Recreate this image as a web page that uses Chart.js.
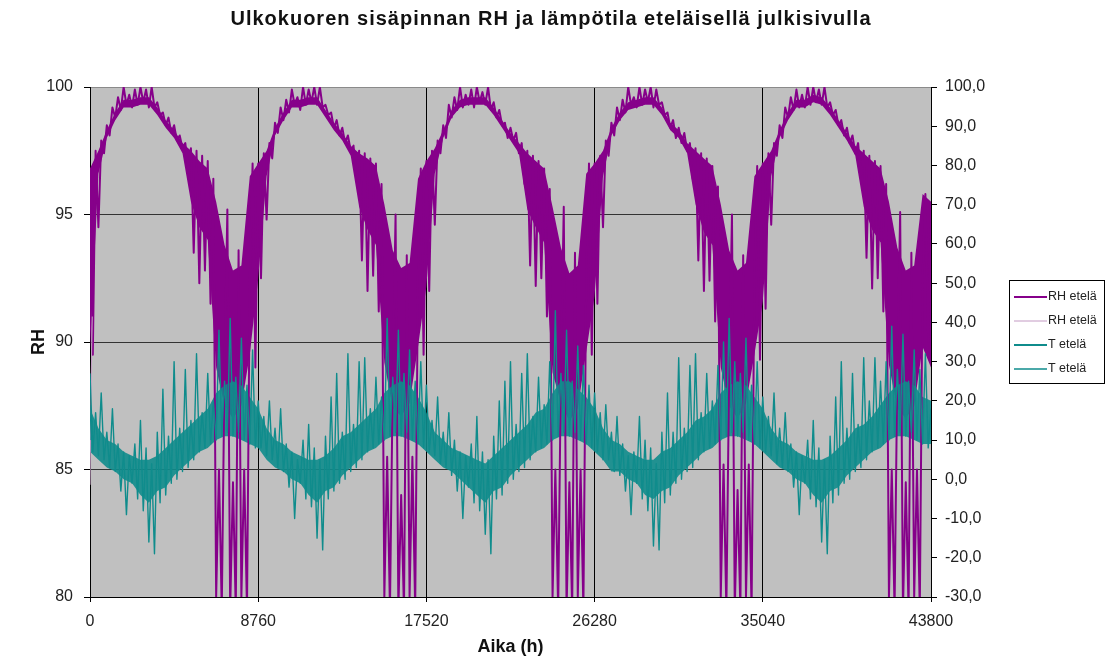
<!DOCTYPE html>
<html lang="fi">
<head>
<meta charset="utf-8">
<title>Ulkokuoren sisäpinnan RH ja lämpötila</title>
<script src="https://cdn.jsdelivr.net/npm/chart.js@4.4.1/dist/chart.umd.min.js"></script>
<style>
  html, body { margin: 0; padding: 0; background: #fff; }
  #wrap { width: 1112px; height: 664px; }
</style>
</head>
<body>
<div id="wrap"><canvas id="chart" width="1112" height="664"></canvas></div>
<script>
const chartTitle = 'Ulkokuoren sisäpinnan RH ja lämpötila eteläisellä julkisivulla';

// axis ticks
const xTicks = [0, 8760, 17520, 26280, 35040, 43800];
const rhTicks = [80, 85, 90, 95, 100];
const tTicks = [-30, -20, -10, 0, 10, 20, 30, 40, 50, 60, 70, 80, 90, 100];

// simulation output, one reading every 146 h (5 years)
const stepHours = 146;
const hours = Array.from({ length: 301 }, (_, i) => i * stepHours);

// RH etelä (%)
const rhEtela = [
  96.8, 89.5, 97.5, 94.5, 97.9, 97.4, 98.5, 98.1, 99.2, 98.8,
  99.6, 99.1, 100, 99.3, 99.7, 99.2, 99.9, 99.3, 100, 99.4,
  99.9, 99.2, 100, 99.2, 99.4, 98.9, 99.0, 98.5, 98.8, 98.2,
  98.5, 97.9, 98.1, 97.6, 97.8, 96.8, 97.6, 93.5, 97.5, 92.3,
  97.3, 92.8, 97.1, 91.5, 96.4, 80.0, 85.0, 79.5, 89.0, 95.2,
  79.5, 84.5, 79.5, 93.6, 80.0, 85.0, 79.5, 92.5, 97.0, 89.0,

  97.0, 92.5, 97.4, 94.8, 97.8, 97.2, 98.6, 98.2, 99.2, 98.7,
  99.5, 99.0, 99.9, 99.3, 99.6, 99.1, 100, 99.3, 99.9, 99.4,
  100, 99.3, 100, 99.2, 99.3, 98.9, 99.0, 98.4, 98.7, 98.1,
  98.4, 97.8, 98.1, 97.5, 97.7, 96.5, 97.5, 93.2, 97.4, 92.0,
  97.2, 92.6, 97.0, 91.2, 96.2, 80.0, 85.5, 79.5, 88.5, 95.0,
  79.5, 84.0, 79.5, 93.4, 80.0, 85.5, 79.5, 92.8, 96.8, 89.5,

  97.1, 92.0, 97.5, 94.6, 97.9, 97.4, 98.5, 98.0, 99.3, 98.8,
  99.6, 99.1, 100, 99.2, 99.7, 99.3, 99.9, 99.2, 100, 99.4,
  99.8, 99.3, 100, 99.1, 99.4, 98.8, 99.1, 98.5, 98.6, 98.0,
  98.4, 97.9, 98.2, 97.4, 97.8, 96.2, 97.5, 93.0, 97.3, 92.2,
  97.1, 92.5, 96.8, 91.0, 96.0, 80.0, 85.0, 79.5, 89.0, 95.3,
  79.5, 84.5, 79.5, 93.5, 80.0, 85.0, 79.5, 92.4, 97.0, 89.5,

  97.0, 91.5, 97.3, 94.5, 97.9, 97.3, 98.6, 98.1, 99.2, 98.7,
  99.5, 99.0, 100, 99.3, 99.6, 99.2, 100, 99.3, 99.9, 99.4,
  100, 99.2, 99.9, 99.3, 99.4, 98.9, 99.0, 98.4, 98.7, 98.0,
  98.4, 97.8, 98.2, 97.5, 97.8, 96.4, 97.6, 93.2, 97.4, 92.0,
  97.2, 92.4, 96.9, 90.8, 96.1, 80.0, 85.2, 79.5, 88.8, 95.0,
  79.5, 84.2, 79.5, 93.4, 80.0, 85.2, 79.5, 92.6, 96.9, 89.3,

  97.0, 91.3, 97.4, 94.6, 97.8, 97.3, 98.5, 98.0, 99.2, 98.8,
  99.6, 99.1, 99.9, 99.2, 99.7, 99.2, 100, 99.3, 100, 99.4,
  99.9, 99.3, 100, 99.2, 99.4, 98.9, 99.1, 98.5, 98.7, 98.1,
  98.4, 97.8, 98.1, 97.4, 97.8, 96.5, 97.5, 93.3, 97.3, 92.1,
  97.1, 92.5, 96.9, 91.2, 96.2, 80.0, 85.0, 79.5, 89.0, 95.1,
  79.5, 84.5, 79.5, 93.5, 80.0, 85.0, 79.5, 92.6, 95.8, 90.0,
  95.5
];

// T etelä (°C)
const tEtela = [
  27, 7, 17, 6, 22, 5, 12, 3, 18, 2,
  9, -3, 7, -9, 6, -1, 9, -5, 15, -8,
  8, -16, 4, -19, 12, -6, 23, -4, 11, -1,
  30, 0, 13, 2, 28, 3, 15, 5, 32, 7,
  17, 8, 27, 9, 20, 10, 38, 11, 25, 12,
  41, 11, 26, 12, 36, 10, 24, 9, 33, 8,

  20, 8, 16, 6, 20, 5, 13, 3, 18, 2,
  9, -2, 7, -10, 5, -1, 10, -5, 14, -7,
  8, -15, 5, -18, 11, -5, 21, -3, 27, -1,
  12, 0, 32, 2, 14, 3, 30, 5, 31, 7,
  18, 8, 26, 9, 21, 10, 41, 11, 26, 12,
  38, 11, 27, 12, 33, 10, 25, 9, 30, 8,

  24, 7, 15, 6, 21, 4, 12, 3, 17, 1,
  10, -3, 7, -10, 6, -2, 9, -6, 16, -8,
  7, -14, 5, -19, 11, -5, 20, -4, 25, -1,
  30, 0, 14, 2, 27, 3, 32, 5, 16, 7,
  26, 8, 19, 9, 30, 10, 43, 11, 27, 12,
  38, 11, 25, 12, 34, 10, 29, 9, 24, 8,

  22, 7, 17, 5, 19, 5, 12, 2, 16, 1,
  9, -3, 6, -9, 7, -1, 16, -5, 10, -8,
  8, -17, 4, -18, 12, -6, 22, -4, 12, -1,
  31, 0, 13, 2, 29, 3, 32, 5, 17, 7,
  27, 8, 20, 9, 29, 10, 35, 11, 41, 12,
  30, 11, 27, 12, 36, 10, 24, 9, 30, 8,

  21, 7, 16, 6, 22, 4, 13, 3, 17, 2,
  9, -2, 7, -9, 6, -1, 10, -5, 15, -7,
  8, -16, 5, -19, 11, -6, 21, -4, 30, -1,
  13, 0, 27, 2, 14, 3, 31, 5, 20, 7,
  31, 8, 25, 9, 30, 10, 39, 11, 28, 12,
  37, 11, 25, 12, 33, 10, 28, 9, 32, 8,
  18
];

// dense part of the hourly scatter: upper and lower edge every 438 h
const coreStep = 438;
const coreHours = Array.from({ length: 101 }, (_, i) => i * coreStep);

const rhCoreHigh = [
  96.8, 97.5, 98.3, 99.0, 99.5, 99.5, 99.6, 99.6, 99.2, 98.7, 98.3, 97.8, 97.5, 97.1, 96.8, 95.5, 93.8, 92.8, 93.0, 96.5,
  97.0, 97.5, 98.4, 99.0, 99.5, 99.5, 99.6, 99.6, 99.1, 98.6, 98.2, 97.7, 97.4, 97.2, 96.9, 95.4, 93.6, 92.9, 93.1, 96.4,
  97.1, 97.6, 98.3, 99.1, 99.5, 99.6, 99.6, 99.6, 99.2, 98.7, 98.2, 97.8, 97.4, 97.1, 96.8, 95.3, 93.7, 92.7, 93.0, 96.6,
  97.0, 97.5, 98.4, 99.0, 99.4, 99.5, 99.6, 99.6, 99.2, 98.6, 98.3, 97.8, 97.5, 97.2, 96.9, 95.4, 93.6, 92.8, 93.1, 96.5,
  97.0, 97.5, 98.3, 99.0, 99.5, 99.5, 99.7, 99.6, 99.2, 98.7, 98.2, 97.7, 97.4, 97.1, 96.8, 95.5, 93.7, 92.8, 93.0, 95.8,
  95.5
];
const rhCoreLow = [
  89.7, 96.6, 98.0, 98.7, 99.2, 99.2, 99.3, 99.3, 98.9, 98.4, 98.0, 97.4, 95.5, 94.5, 94.0, 89.0, 87.5, 87.0, 87.5, 89.5,
  92.5, 96.5, 98.1, 98.7, 99.2, 99.2, 99.3, 99.3, 98.8, 98.3, 97.9, 97.3, 95.3, 94.4, 93.8, 89.2, 87.4, 87.1, 87.6, 89.8,
  92.2, 96.6, 98.0, 98.8, 99.2, 99.3, 99.3, 99.3, 98.9, 98.4, 97.9, 97.4, 95.2, 94.5, 93.9, 88.8, 87.6, 86.9, 87.4, 89.6,
  91.8, 96.5, 98.1, 98.7, 99.1, 99.2, 99.3, 99.3, 98.9, 98.3, 98.0, 97.4, 95.4, 94.3, 93.8, 89.0, 87.5, 87.0, 87.6, 89.5,
  91.6, 96.5, 98.0, 98.7, 99.2, 99.2, 99.4, 99.3, 98.9, 98.4, 97.9, 97.3, 95.3, 94.4, 93.9, 89.1, 87.4, 87.0, 87.5, 89.8,
  89.0
];

const tCoreHigh = [
  18, 13, 10, 9, 7, 6, 5, 5, 6, 8, 10, 12, 14, 16, 18, 22, 24, 25, 24, 21,
  18, 13, 10, 9, 7, 6, 5, 5, 6, 8, 11, 12, 14, 16, 18, 22, 24, 25, 24, 21,
  17, 12, 10, 8, 7, 6, 5, 4, 6, 8, 10, 12, 14, 17, 18, 22, 25, 25, 23, 21,
  18, 13, 10, 9, 7, 6, 5, 5, 7, 8, 10, 12, 15, 16, 18, 22, 24, 25, 24, 21,
  18, 13, 10, 9, 7, 6, 5, 5, 6, 8, 10, 13, 14, 16, 19, 22, 24, 25, 24, 21,
  20
];
const tCoreLow = [
  7, 5, 3, 2, 0, -1, -4, -6, -3, -2, 1, 3, 5, 7, 8, 10, 11, 11, 10, 9,
  8, 5, 3, 2, 0, -1, -4, -6, -3, -2, 1, 3, 5, 7, 8, 10, 11, 11, 10, 9,
  7, 5, 3, 2, 0, -2, -4, -6, -3, -2, 1, 3, 5, 7, 8, 10, 11, 11, 10, 9,
  7, 5, 2, 2, 0, -1, -4, -5, -3, -2, 1, 3, 5, 7, 8, 10, 11, 11, 10, 9,
  7, 5, 3, 2, 0, -1, -4, -6, -3, -2, 1, 3, 5, 7, 8, 10, 11, 11, 10, 9,
  9
];

// second pair of series, only the first hours show from under the first pair
const rhEtela2Hours = [0, 60, 120];
const rhEtela2 = [84.4, 88.5, 91.0];
const tEtela2Hours = [0, 60, 120];
const tEtela2 = [19, 10, 15];

const FONT = '"Liberation Sans", Arial, Helvetica, sans-serif';
const PURPLE = '#86008a';
const MAUVE = '#c39ac3';
const TEAL = '#0f8c8c';
const TEAL_CORE = 'rgba(15, 140, 140, 0.9)';

const toPoints = (xs, ys) => ys.map((y, i) => ({ x: xs[i], y }));

// grey plot area
const plotBackground = {
  id: 'plotBackground',
  beforeDraw(chart) {
    const { ctx, chartArea: a } = chart;
    ctx.save();
    ctx.fillStyle = '#ffffff';
    ctx.fillRect(0, 0, chart.width, chart.height);
    ctx.fillStyle = '#c0c0c0';
    ctx.fillRect(a.left, a.top, a.right - a.left, a.bottom - a.top);
    ctx.restore();
  }
};

// title drawn a little wider-spaced, like the spreadsheet export
const wideTitle = {
  id: 'wideTitle',
  afterDraw(chart) {
    const { ctx } = chart;
    ctx.save();
    ctx.font = 'bold 20px ' + FONT;
    ctx.fillStyle = '#111';
    ctx.textAlign = 'center';
    ctx.textBaseline = 'middle';
    if ('letterSpacing' in ctx) ctx.letterSpacing = '1px';
    ctx.fillText(chartTitle, 551, 19);
    ctx.restore();
  }
};

// boxed legend on the right side, one row per plotted series
const boxLegend = {
  id: 'boxLegend',
  afterDraw(chart) {
    const { ctx } = chart;
    const box = { x: 1009, y: 280, w: 95, h: 103 };
    ctx.save();
    ctx.fillStyle = '#fff';
    ctx.fillRect(box.x, box.y, box.w, box.h);
    ctx.strokeStyle = '#000';
    ctx.lineWidth = 1;
    ctx.strokeRect(box.x + 0.5, box.y + 0.5, box.w, box.h);
    ctx.font = '12.5px ' + FONT;
    ctx.textBaseline = 'middle';
    ctx.textAlign = 'left';
    chart.data.datasets.filter(ds => ds.legendWidth).forEach((ds, i) => {
      const y = 297 + i * 24;
      ctx.strokeStyle = ds.borderColor;
      ctx.lineWidth = ds.legendWidth;
      ctx.beginPath();
      ctx.moveTo(1014, y);
      ctx.lineTo(1047, y);
      ctx.stroke();
      ctx.fillStyle = '#222';
      ctx.fillText(ds.label, 1048, y);
    });
    ctx.restore();
  }
};

const lineDefaults = {
  pointRadius: 0,
  tension: 0,
  fill: false,
  clip: 0,
  borderJoinStyle: 'round'
};

const bandEdge = (label, xs, ys, axis, order, color, fill) => ({
  ...lineDefaults,
  label,
  data: toPoints(xs, ys),
  borderColor: 'rgba(0,0,0,0)',
  borderWidth: 0,
  backgroundColor: color,
  fill: fill ? '-1' : false,
  yAxisID: axis,
  order
});

new Chart(document.getElementById('chart'), {
  type: 'line',
  data: {
    datasets: [
      bandEdge('RH ylä', coreHours, rhCoreHigh, 'y', 7, PURPLE, false),
      bandEdge('RH ala', coreHours, rhCoreLow, 'y', 6, PURPLE, true),
      bandEdge('T ylä', coreHours, tCoreHigh, 'y1', 5, TEAL_CORE, false),
      bandEdge('T ala', coreHours, tCoreLow, 'y1', 4, TEAL_CORE, true),
      { ...lineDefaults, label: 'RH etelä', data: toPoints(hours, rhEtela),
        borderColor: PURPLE, borderWidth: 2, legendWidth: 2, yAxisID: 'y', order: 3 },
      { ...lineDefaults, label: 'RH etelä', data: toPoints(rhEtela2Hours, rhEtela2),
        borderColor: MAUVE, borderWidth: 1, legendWidth: 1, yAxisID: 'y', order: 2 },
      { ...lineDefaults, label: 'T etelä', data: toPoints(hours, tEtela),
        borderColor: TEAL, borderWidth: 1.4, legendWidth: 2, yAxisID: 'y1', order: 1 },
      { ...lineDefaults, label: 'T etelä', data: toPoints(tEtela2Hours, tEtela2),
        borderColor: TEAL, borderWidth: 1, legendWidth: 1.5, yAxisID: 'y1', order: 0 }
    ]
  },
  options: {
    responsive: false,
    animation: false,
    events: [],
    layout: { padding: { top: 87, right: 101, bottom: 0, left: 0 } },
    plugins: {
      legend: { display: false },
      title: { display: false },
      tooltip: { enabled: false },
      filler: { propagate: false }
    },
    scales: {
      x: {
        type: 'linear',
        min: 0,
        max: 43800,
        afterBuildTicks: s => { s.ticks = xTicks.map(v => ({ value: v })); },
        afterFit: s => { s.height = 67; },
        grid: { color: '#000', lineWidth: 1, tickLength: 5 },
        border: { color: '#000', width: 1 },
        ticks: {
          font: { family: FONT, size: 16 },
          color: '#222',
          padding: 10,
          maxRotation: 0,
          autoSkip: false,
          callback: v => String(v)
        },
        title: {
          display: true,
          text: 'Aika (h)',
          font: { family: FONT, size: 18, weight: 'bold' },
          color: '#111',
          padding: { top: 0, bottom: 6 }
        }
      },
      y: {
        position: 'left',
        min: 80,
        max: 100,
        afterBuildTicks: s => { s.ticks = rhTicks.map(v => ({ value: v })); },
        afterFit: s => { s.width = 90; },
        grid: {
          color: c => (c.tick && c.tick.value === 100 ? '#8a8a8a' : '#333'),
          tickColor: '#000',
          lineWidth: 1,
          tickLength: 6
        },
        border: { color: '#000', width: 1 },
        ticks: {
          font: { family: FONT, size: 16 },
          color: '#222',
          padding: 11,
          callback: v => String(v)
        },
        title: {
          display: true,
          text: 'RH',
          font: { family: FONT, size: 18, weight: 'bold' },
          color: '#111',
          padding: { top: 28, bottom: 0 }
        }
      },
      y1: {
        position: 'right',
        min: -30,
        max: 100,
        afterBuildTicks: s => { s.ticks = tTicks.map(v => ({ value: v })); },
        afterFit: s => { s.width = 80; },
        grid: { drawOnChartArea: false, color: '#000', tickLength: 6 },
        border: { color: '#000', width: 1 },
        ticks: {
          font: { family: FONT, size: 16 },
          color: '#222',
          padding: 8,
          callback: v => v.toFixed(1).replace('.', ',')
        }
      }
    }
  },
  plugins: [plotBackground, wideTitle, boxLegend]
});
</script>
</body>
</html>
